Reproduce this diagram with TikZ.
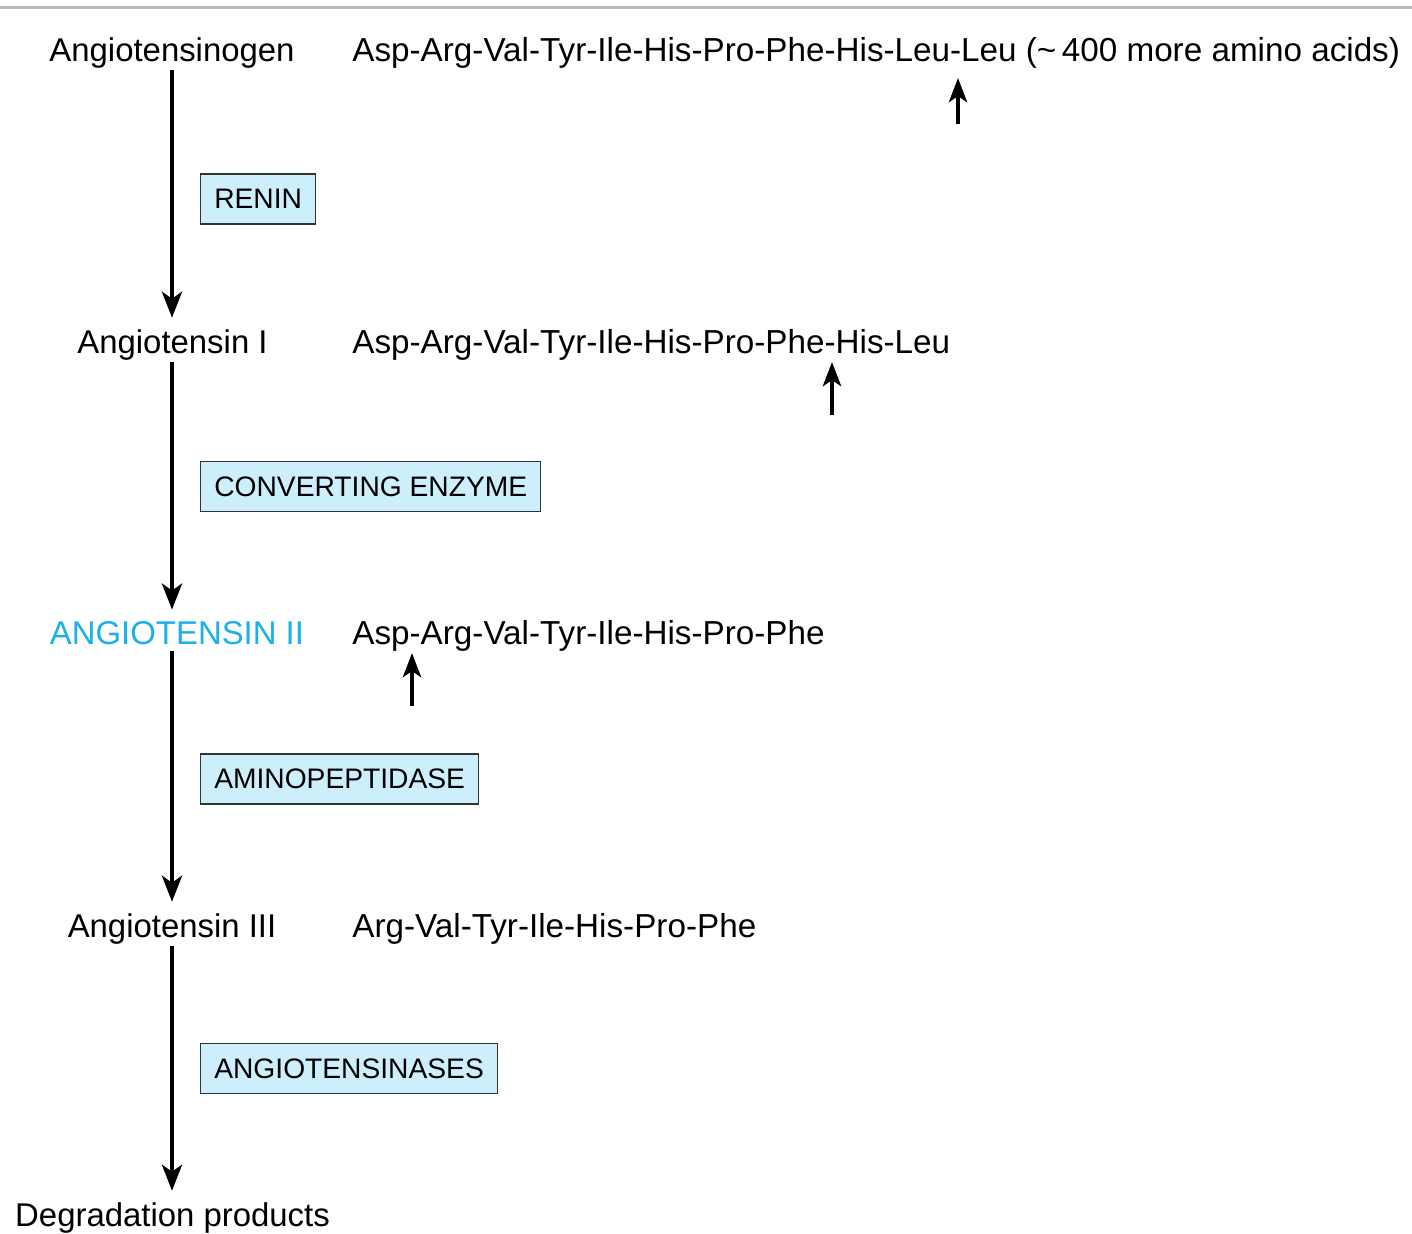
\documentclass[tikz,border=0pt]{standalone}
\usepackage{fontspec}
\setmainfont{Liberation Sans}
\usetikzlibrary{arrows.meta}
\definecolor{enzfill}{HTML}{CDEEFB}
\definecolor{angblue}{HTML}{1CB0EA}

\begin{document}
\begin{tikzpicture}[x=0.5pt,y=-0.5pt,
    lbl/.style={font=\fontsize{16.45}{19}\selectfont, inner sep=0pt, text depth=3.5pt, anchor=base},
    seq/.style={lbl, font=\fontsize{16.62}{19}\selectfont, anchor=base west},
    enz/.style={draw=black!80, fill=enzfill, line width=0.7pt, font=\fontsize{14.1}{16}\selectfont,
        minimum height=25pt, inner xsep=6.8pt, inner ysep=0pt, anchor=west},
    flow/.style={line width=2.2pt, shorten <=1pt, shorten >=5.5pt, -{Stealth[length=13pt,width=10pt,inset=3.5pt]}},
    cut/.style={line width=2.4pt, -{Stealth[length=12pt,width=9pt,inset=3pt]}}]
    \useasboundingbox (0,0) rectangle (1412,1233);
    \draw[gray!55, line width=1.5pt] (0,7) -- (1412,7);
    % peptides
    \node[lbl] (gen) at (172,61) {Angiotensinogen};
    \node[lbl] (angI) at (172.5,353) {Angiotensin I};
    \node[lbl, text=angblue] (angII) at (177,644) {ANGIOTENSIN II};
    \node[lbl] (angIII) at (172,937) {Angiotensin III};
    \node[lbl] (deg) at (172.5,1226) {Degradation products};
    % sequences
    \node[seq] (seqgen) at (352,61) {Asp-Arg-Val-Tyr-Ile-His-Pro-Phe-His-Leu-Leu (\textasciitilde\,400 more amino acids)};
    \node[seq] (seqI) at (352,353) {Asp-Arg-Val-Tyr-Ile-His-Pro-Phe-His-Leu};
    \node[seq] (seqII) at (352,644) {Asp-Arg-Val-Tyr-Ile-His-Pro-Phe};
    \node[seq] (seqIII) at (352,937) {Arg-Val-Tyr-Ile-His-Pro-Phe};
    % enzymes
    \node[enz] (renin) at (200,199) {RENIN};
    \node[enz] (ace) at (200,486.5) {CONVERTING ENZYME};
    \node[enz] (amino) at (200,779) {AMINOPEPTIDASE};
    \node[enz] (ases) at (200,1068.5) {ANGIOTENSINASES};
    % cascade
    \draw[flow] (gen.south -| 172,0) -- (angI.north -| 172,0);
    \draw[flow] (angI.south -| 172,0) -- (angII.north -| 172,0);
    \draw[flow, shorten <=0pt] (angII.south -| 172,0) -- (angIII.north -| 172,0);
    \draw[flow] (angIII.south -| 172,0) -- (deg.north -| 172,0);
    % cleavage sites
    \foreach \n/\x/\yb/\yt in {gen/958/124/78, I/832/415/362, II/412/706/653}{
        \coordinate (cb\n) at (\x,\yb);
        \coordinate (ct\n) at (\x,\yt);
        \draw[cut] (cb\n) -- (ct\n);
    }
\end{tikzpicture}
\end{document}
